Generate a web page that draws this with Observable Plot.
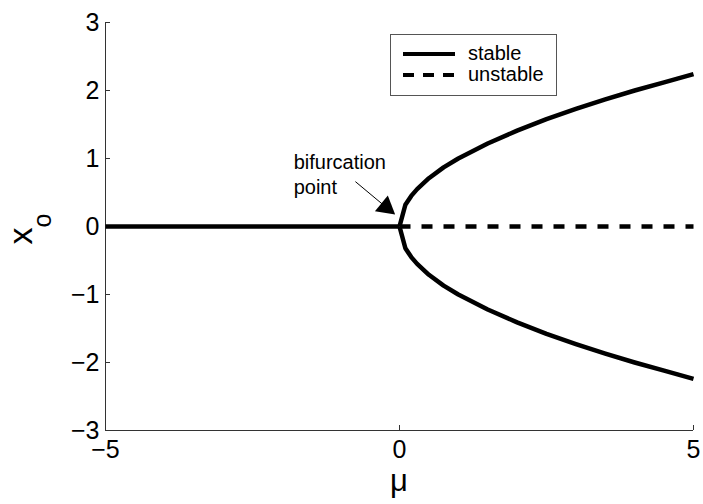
<!DOCTYPE html>
<html>
<head>
<meta charset="utf-8">
<script src="https://cdn.jsdelivr.net/npm/d3@7"></script>
<script src="https://cdn.jsdelivr.net/npm/@observablehq/plot@0.6"></script>
<style>
  html, body { margin: 0; padding: 0; background: #fff; }
  #wrap { position: relative; width: 703px; height: 504px; font-family: "Liberation Sans", Arial, sans-serif; }
  #legend {
    position: absolute; left: 390px; top: 34px; width: 167px; height: 62px;
    border: 1px solid #555; background: #fff; box-sizing: border-box;
  }
  #legend .row { position: absolute; left: 0; height: 21px; display: flex; align-items: center; }
  #legend .row span { font-size: 20px; color: #000; margin-left: 13px; }
  #legend svg { display: block; margin-left: 12px; }
</style>
</head>
<body>
<div id="wrap"></div>
<script>
// Pitchfork bifurcation diagram: equilibria x_o versus parameter mu.

// Stable trivial branch (mu < 0)
const leftMu = [-5, 0];
const leftX  = [0, 0];

// Stable upper branch (mu > 0)
const upperMu = [0, 0.1, 0.2, 0.3, 0.5, 0.75, 1, 1.5, 2, 2.5, 3, 3.5, 4, 4.5, 5];
const upperX  = [0, 0.32, 0.45, 0.55, 0.71, 0.87, 1.0, 1.22, 1.41, 1.58, 1.73, 1.87, 2.0, 2.12, 2.24];

// Stable lower branch (mu > 0)
const lowerMu = [0, 0.1, 0.2, 0.3, 0.5, 0.75, 1, 1.5, 2, 2.5, 3, 3.5, 4, 4.5, 5];
const lowerX  = [0, -0.32, -0.45, -0.55, -0.71, -0.87, -1.0, -1.22, -1.41, -1.58, -1.73, -1.87, -2.0, -2.12, -2.24];

// Unstable trivial branch (mu > 0)
const unstableMu = [0, 5];
const unstableX  = [0, 0];

// Axis ticks
const xTicks = [-5, 0, 5];
const yTicks = [-3, -2, -1, 0, 1, 2, 3];

// Annotation: label position, arrow tail and arrowhead centre (data units)
const noteText = "bifurcation\npoint";
const noteAt = {mu: -1.80, x: 0.78};
const arrowFrom = {mu: -0.75, x: 0.66};
const arrowHead = {mu: -0.23, x: 0.285};

const stable = [
  ...leftMu.map((m, i) => ({mu: m, x: leftX[i], branch: "left"})),
  ...upperMu.map((m, i) => ({mu: m, x: upperX[i], branch: "upper"})),
  ...lowerMu.map((m, i) => ({mu: m, x: lowerX[i], branch: "lower"}))
];
const unstable = unstableMu.map((m, i) => ({mu: m, x: unstableX[i]}));

const minus = (d) => (d < 0 ? "\u2212" + Math.abs(d) : String(d));

const plot = Plot.plot({
  width: 703,
  height: 504,
  marginLeft: 105,
  marginRight: 10,
  marginTop: 22,
  marginBottom: 74,
  style: {fontFamily: "'Liberation Sans', Arial, sans-serif", fontSize: "25px", color: "#000", background: "#fff"},
  x: {domain: [-5, 5]},
  y: {domain: [-3, 3]},
  marks: [
    Plot.ruleX([-5], {stroke: "#333", strokeWidth: 1}),
    Plot.ruleY([-3], {stroke: "#333", strokeWidth: 1}),
    Plot.axisX(xTicks, {tickSize: -5, tickPadding: 15, tickFormat: minus, stroke: "#333", fontSize: 25, label: null}),
    Plot.axisY(yTicks, {tickSize: -5, tickPadding: 11, tickFormat: minus, stroke: "#333", fontSize: 25, label: null}),
    Plot.line(unstable, {x: "mu", y: "x", stroke: "#000", strokeWidth: 4.5,
      strokeDasharray: "11,11", strokeDashoffset: 0, strokeLinecap: "butt"}),
    Plot.line(stable, {x: "mu", y: "x", z: "branch", stroke: "#000", strokeWidth: 4.5,
      strokeLinejoin: "round", strokeLinecap: "butt"}),
    Plot.link([{}], {x1: arrowFrom.mu, y1: arrowFrom.x, x2: arrowHead.mu, y2: arrowHead.x, stroke: "#000", strokeWidth: 1}),
    Plot.dot([arrowHead], {x: "mu", y: "x", symbol: "triangle", r: 7.6, rotate: 129, fill: "#000", stroke: "none"}),
    Plot.text([noteAt], {x: "mu", y: "x", text: () => noteText, textAnchor: "start",
      lineAnchor: "middle", lineHeight: 1.25, fontSize: 20, fill: "#000"})
  ]
});

const wrap = document.getElementById("wrap");
wrap.appendChild(plot);

// Axis titles (the y title carries a subscript)
const svg = d3.select(plot);
svg.append("text")
  .attr("transform", "translate(32,229) rotate(-90)")
  .attr("text-anchor", "middle")
  .attr("font-size", 34)
  .attr("fill", "#000")
  .call(t => {
    t.append("tspan").text("x");
    t.append("tspan").attr("font-size", 25).attr("dy", 19).text("o");
  });
svg.append("text")
  .attr("x", 399)
  .attr("y", 491)
  .attr("text-anchor", "middle")
  .attr("font-size", 31)
  .attr("fill", "#000")
  .text("\u03bc");

// Legend
const legendItems = [
  {label: "stable", dash: null},
  {label: "unstable", dash: "11,9"}
];
const legend = d3.select(wrap).append("div").attr("id", "legend");
legendItems.forEach((item, i) => {
  const row = legend.append("div").attr("class", "row").style("top", (8 + i * 21) + "px");
  const s = row.append("svg").attr("width", 52).attr("height", 8);
  s.append("line").attr("x1", 0).attr("x2", 52).attr("y1", 4).attr("y2", 4)
    .attr("stroke", "#000").attr("stroke-width", 4)
    .attr("stroke-dasharray", item.dash);
  row.append("span").text(item.label);
});
</script>
</body>
</html>
